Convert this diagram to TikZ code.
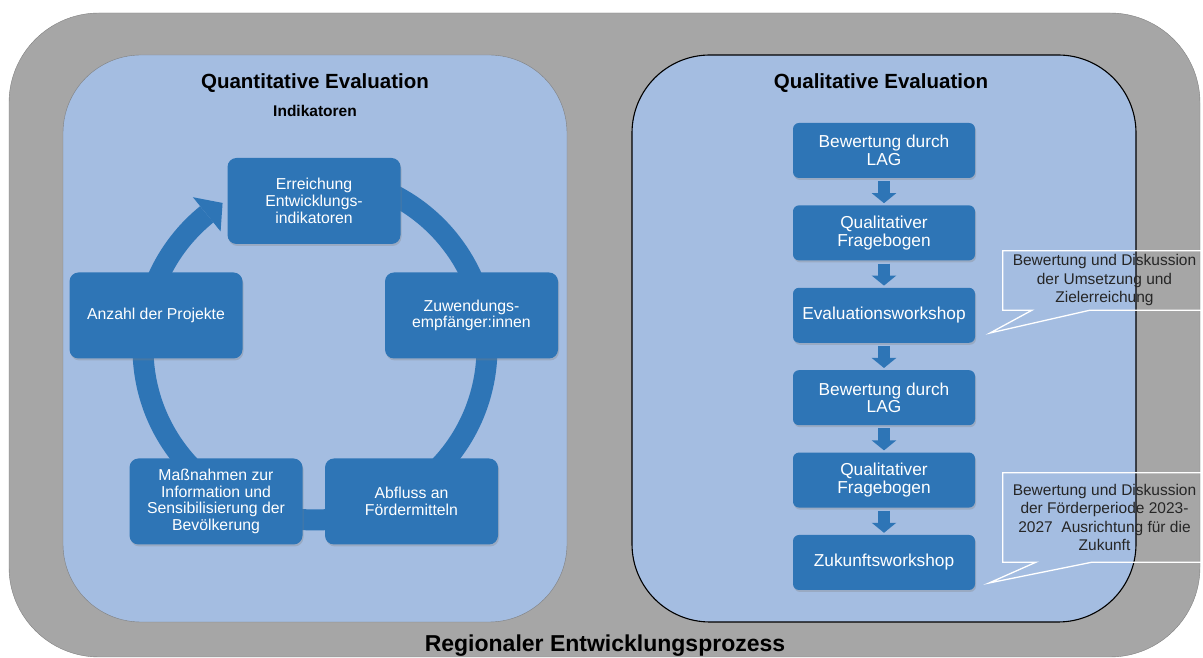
\documentclass[tikz,border=0pt]{standalone}
\usepackage{fontspec}
\setmainfont{Liberation Sans}
\usetikzlibrary{arrows.meta,positioning,shadows}
\definecolor{boxblue}{RGB}{46,117,182}
\definecolor{panelblue}{RGB}{164,189,225}
\definecolor{framegray}{RGB}{166,166,166}

\begin{document}
\begin{tikzpicture}[x=1pt,y=1pt,
    panel/.style={rounded corners=78pt, fill=panelblue},
    cbox/.style={fill=boxblue, rounded corners=9pt, text=white, align=center, minimum width=173pt, minimum height=86pt, inner sep=2pt, font=\fontsize{15.8}{16.8}\selectfont, drop shadow={shadow xshift=1pt, shadow yshift=-2pt, opacity=.3}},
    qbox/.style={cbox, minimum width=182pt, minimum height=55pt, rounded corners=6pt, font=\fontsize{17.3}{17.5}\selectfont},
    flow/.style={boxblue, line width=12pt, -{Triangle[width=24pt,length=10pt]}, shorten <=3pt, shorten >=2pt},
    note/.style={align=center, minimum width=203pt, inner sep=0pt, text=black!85, font=\fontsize{15.5}{18.5}\selectfont},
    noteline/.style={draw=white, line width=1.3pt}]
      \useasboundingbox (0,0) rectangle (1203,658);
      \clip (0,0) rectangle (1203,658);

      % frame and panels
      \draw[fill=framegray, draw=black!50, rounded corners=90pt] (9,1) rectangle (1200,645);
      \draw[panel, draw=gray] (63,36) rectangle (567,603);
      \draw[panel, draw=black, line width=1.1pt] (632,36) rectangle (1136,603);

      \node[anchor=base, font=\fontsize{20.5}{22}\selectfont\bfseries] (quanti) at (315,569) {Quantitative Evaluation};
      \node[anchor=base, font=\fontsize{15.5}{18}\selectfont\bfseries] (indi) at (315,541) {Indikatoren};
      \node[anchor=base, font=\fontsize{20.5}{22}\selectfont\bfseries] (quali) at (881,569) {Qualitative Evaluation};
      \node[anchor=base, font=\fontsize{23}{24}\selectfont\bfseries] (rep) at (605,6) {Regionaler Entwicklungsprozess};

      % cycle
      \coordinate (c) at (315,310);
      \draw[boxblue, line width=21pt] ([shift={(129:172)}]c) arc[start angle=129, end angle=475, radius=172];
      \fill[boxblue] ([shift={(129:150)}]c) -- ([shift={(129:194)}]c) -- ([shift={(122.5:172)}]c) -- cycle;

      \node[cbox] (erreichung) at (314,457) {Erreichung\\Entwicklungs-\\indikatoren};
      \node[cbox] (zuwendung) at (471.5,342.5) {Zuwendungs-\\empfänger:innen};
      \node[cbox] (abfluss) at (411.5,156.5) {Abfluss an\\Fördermitteln};
      \node[cbox] (massnahmen) at (216,156.5) {Maßnahmen zur\\Information und\\Sensibilisierung der\\Bevölkerung};
      \node[cbox] (anzahl) at (156,342.5) {Anzahl der Projekte};

      % qualitative steps
      \node[qbox] (lag1) at (884,507.5) {Bewertung durch\\LAG};
      \node[qbox, below=27pt of lag1] (frage1) {Qualitativer\\Fragebogen};
      \node[qbox, below=27pt of frage1] (evalws) {Evaluationsworkshop};
      \node[qbox, below=27pt of evalws] (lag2) {Bewertung durch\\LAG};
      \node[qbox, below=27pt of lag2] (frage2) {Qualitativer\\Fragebogen};
      \node[qbox, below=27pt of frage2] (zukunftws) {Zukunftsworkshop};

      \foreach \a/\b in {lag1/frage1, frage1/evalws, evalws/lag2, lag2/frage2, frage2/zukunftws}
        \draw[flow] (\a) -- (\b);

      % callouts
      \node[note, minimum height=59pt] (note1) at (1104.5,377.5) {Bewertung und Diskussion\\der Umsetzung und\\Zielerreichung};
      \coordinate (tip1) at (990,325);
      \draw[noteline] (note1.south west) -- (note1.north west) -- (note1.north east) -- (note1.south east)
        -- ([xshift=-14.5pt]note1.south) -- (tip1) -- ([xshift=-72.5pt]note1.south) -- cycle;

      \node[note, minimum height=89pt] (note2) at (1104.5,140.5) {Bewertung und Diskussion\\der Förderperiode 2023-\\2027\ \ Ausrichtung für die\\Zukunft};
      \coordinate (tip2) at (989,75);
      \draw[noteline] (note2.south west) -- (note2.north west) -- (note2.north east) -- (note2.south east)
        -- ([xshift=-12.5pt]note2.south) -- (tip2) -- ([xshift=-68.5pt]note2.south) -- cycle;
    \end{tikzpicture}
\end{document}
